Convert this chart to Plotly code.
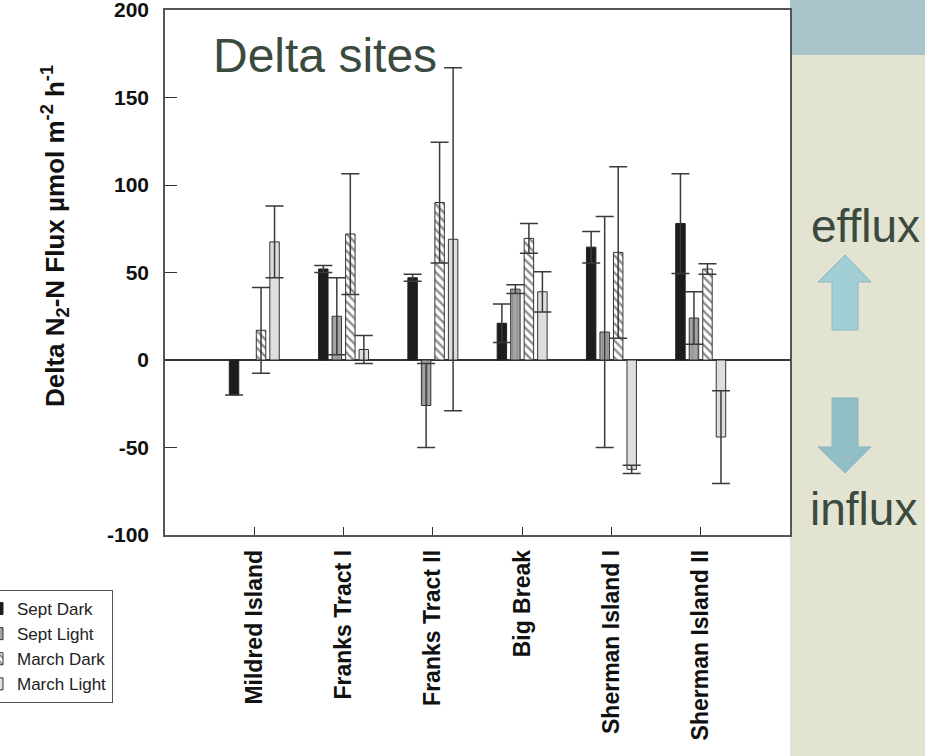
import plotly.graph_objects as go

sites = ["Mildred Island", "Franks Tract I", "Franks Tract II", "Big Break",
         "Sherman Island I", "Sherman Island II"]
site_pos = [1, 2, 3, 4, 5, 6]

sept_dark = [-20, 52, 47, 21, 64.5, 78]
sept_dark_err = [0, 2, 2, 11, 9, 28.5]
sept_light = [None, 25, -26, 40.5, 16, 24]
sept_light_err = [None, 22, 24, 2.5, 66, 15]
march_dark = [17, 72, 90, 69.5, 61.5, 52]
march_dark_err = [24.5, 34.5, 34.5, 8.5, 49, 3]
march_light = [67.5, 6, 69, 39, -62.5, -44]
march_light_err = [20.5, 8, 98, 11.5, 2.3, 26.5]

y_ticks = [-100, -50, 0, 50, 100, 150, 200]
y_tick_labels = ["-100", "-50", "0", "50", "100", "150", "200"]

FONT = "Liberation Sans, Arial, sans-serif"
L, R, T, B = 165, 790, 10, 535
W, H = 925, 756


def xp(px):
    return (px - L) / (R - L)


def yp(py):
    return (B - py) / (B - T)


def path(points):
    return "M " + " L ".join(f"{xp(a):.4f},{yp(b):.4f}" for a, b in points) + " Z"


err_style = dict(type="data", color="#3a3a3a", thickness=1.5, width=9)

fig = go.Figure()
fig.add_trace(go.Bar(
    name="Sept Dark", x=site_pos, y=sept_dark,
    error_y=dict(array=sept_dark_err, **err_style),
    marker=dict(color="#1c1c1c", line=dict(color="#222", width=1)),
))
fig.add_trace(go.Bar(
    name="Sept Light", x=site_pos, y=sept_light,
    error_y=dict(array=sept_light_err, **err_style),
    marker=dict(color="#9e9e9e", line=dict(color="#333", width=1),
                pattern=dict(shape="|", bgcolor="#a4a4a4", fgcolor="#6a6a6a",
                             size=5, solidity=0.15)),
))
fig.add_trace(go.Bar(
    name="March Dark", x=site_pos, y=march_dark,
    error_y=dict(array=march_dark_err, **err_style),
    marker=dict(color="white", line=dict(color="#333", width=1),
                pattern=dict(shape="\\", bgcolor="white", fgcolor="#1e1e1e",
                             size=6, solidity=0.4)),
))
fig.add_trace(go.Bar(
    name="March Light", x=site_pos, y=march_light,
    error_y=dict(array=march_light_err, **err_style),
    marker=dict(color="#dedede", line=dict(color="#333", width=1)),
))

shapes = [
    dict(type="rect", xref="paper", yref="paper", x0=xp(R), x1=xp(W),
         y0=yp(H), y1=yp(55), fillcolor="#e2e4d1", line=dict(width=0), layer="below"),
    dict(type="rect", xref="paper", yref="paper", x0=xp(R), x1=xp(W),
         y0=yp(55), y1=yp(0), fillcolor="#a9c4cb", line=dict(width=0), layer="below"),
    dict(type="path", xref="paper", yref="paper",
         path=path([(845, 255), (871, 282), (858, 282), (858, 330),
                    (832, 330), (832, 282), (818, 282)]),
         fillcolor="#a2cfd6", line=dict(color="#8ab7bd", width=1)),
    dict(type="path", xref="paper", yref="paper",
         path=path([(832, 398), (858, 398), (858, 447), (871, 447),
                    (845, 473), (818, 447), (832, 447)]),
         fillcolor="#92bfc5", line=dict(color="#8ab7bd", width=1)),
]

annotations = [
    dict(text="Delta sites", xref="paper", yref="paper", x=xp(325), y=yp(56),
         xanchor="center", yanchor="middle",
         showarrow=False, font=dict(family=FONT, size=48, color="#3b4a3e")),
    dict(text="efflux", xref="paper", yref="paper", x=xp(865), y=yp(226),
         xanchor="center", yanchor="middle",
         showarrow=False, font=dict(family=FONT, size=46, color="#3b4a3e")),
    dict(text="influx", xref="paper", yref="paper", x=xp(863), y=yp(509),
         xanchor="center", yanchor="middle",
         showarrow=False, font=dict(family=FONT, size=46, color="#3b4a3e")),
    dict(text="<b>Delta N<sub>2</sub>-N Flux \u00b5mol m<sup>-2</sup> h<sup>-1</sup></b>",
         xref="paper", yref="paper", x=xp(55), y=yp(236), textangle=-90,
         xanchor="center", yanchor="middle",
         showarrow=False, font=dict(family=FONT, size=26, color="#111")),
]

fig.update_layout(
    width=W, height=H,
    margin=dict(l=L, r=W - R, t=T, b=H - B, autoexpand=False),
    paper_bgcolor="white", plot_bgcolor="white",
    barmode="group", bargap=0.395, bargroupgap=0.3,
    showlegend=True,
    legend=dict(x=xp(-24), y=yp(590), xanchor="left", yanchor="top",
                bgcolor="white", bordercolor="#555", borderwidth=1,
                font=dict(family=FONT, size=17, color="#222"),
                tracegroupgap=0, itemwidth=30),
    shapes=shapes, annotations=annotations,
    font=dict(family=FONT),
)

fig.update_xaxes(
    range=[0, 7], tickvals=site_pos, ticktext=[f"<b>{s}</b>" for s in sites],
    tickangle=-90, ticks="inside", ticklen=8, tickcolor="#333",
    showline=True, linecolor="#555", linewidth=1.5, mirror=True,
    showgrid=False, zeroline=False,
    tickfont=dict(family=FONT, size=23, color="#111"),
    ticklabelstandoff=4,
)
fig.update_yaxes(
    range=[-100, 200], tickvals=y_ticks, ticktext=[f"<b>{t}</b>" for t in y_tick_labels],
    ticks="inside", ticklen=12, tickcolor="#333",
    showline=True, linecolor="#555", linewidth=1.5, mirror=True,
    showgrid=False, zeroline=True, zerolinecolor="#333", zerolinewidth=1.5,
    tickfont=dict(family=FONT, size=21, color="#111"),
    ticklabelstandoff=10, ticklabeloverflow="allow",
)

fig.write_html("out.html")
